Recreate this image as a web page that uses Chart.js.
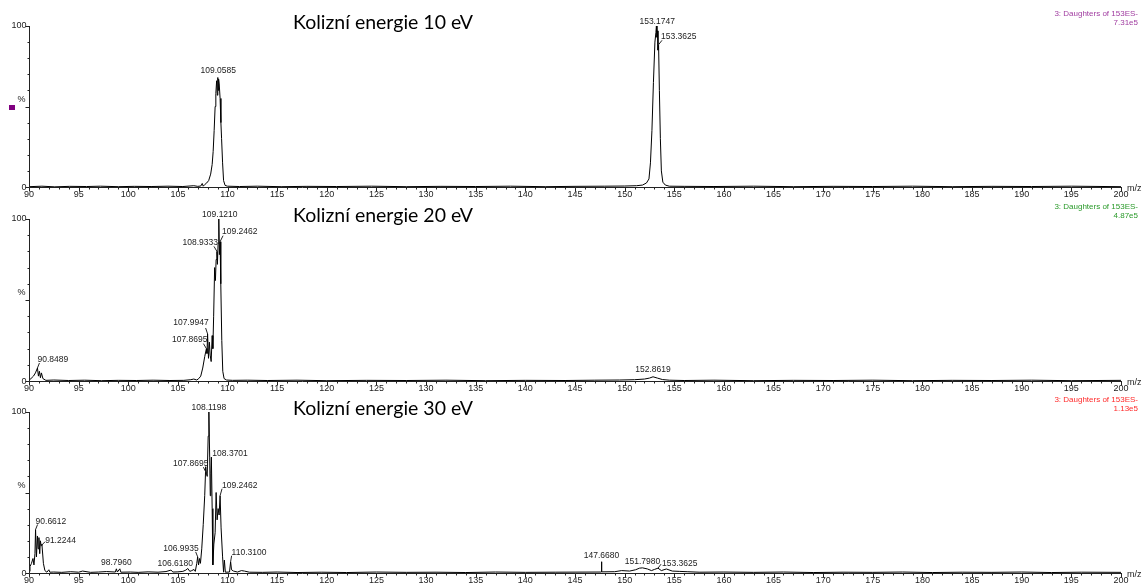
<!DOCTYPE html>
<html>
<head>
<meta charset="utf-8">
<script src="https://cdn.jsdelivr.net/npm/chart.js@4"></script>
<style>
  body { margin: 0; background: #fff; width: 1143px; height: 586px; position: relative; overflow: hidden; }
  canvas { position: absolute; left: 0; }
</style>
</head>
<body>
<canvas id="spec10" width="1143" height="200" style="top:0px"></canvas>
<canvas id="spec20" width="1143" height="200" style="top:192px"></canvas>
<canvas id="spec30" width="1143" height="200" style="top:386px"></canvas>
<script>
// ---- data: m/z and relative intensity (%) ----
const mz10 = [
  90.0, 91.3, 92.6, 94.1, 95.8, 97.2, 99.0, 100.6, 102.3, 104.0,
  105.5, 106.6, 107.0, 107.3, 107.45, 107.55, 107.7, 107.9, 108.1, 108.3,
  108.45, 108.55, 108.65, 108.75, 108.82, 108.9, 108.97, 109.02, 109.06, 109.1,
  109.16, 109.25, 109.33, 109.4, 109.5, 109.6, 109.75, 110.0, 111.2, 113.0,
  115.4, 118.0, 121.0, 124.5, 128.0, 131.5, 135.0, 138.5, 142.0, 145.0,
  148.0, 150.0, 151.2, 151.8, 152.2, 152.45, 152.6, 152.75, 152.9, 153.05,
  153.15, 153.2, 153.26, 153.32, 153.36, 153.42, 153.5, 153.6, 153.7, 153.85,
  154.1, 154.5, 156.0, 159.0, 163.0, 167.0, 171.0, 175.0, 179.0, 183.0,
  187.0, 191.0, 195.0, 200.0
];
const int10 = [
  0.2, 0.5, 0.1, 0.4, 0.3, 0.5, 0.2, 0.4, 0.3, 0.5,
  0.3, 0.8, 0.4, 0.6, 2.2, 0.5, 1.5, 2.5, 4, 8,
  14, 22, 35, 50, 58, 66, 57, 68, 60, 67,
  64, 55, 40, 30, 15, 4, 1, 0.5, 0.3, 0.5,
  0.2, 0.4, 0.3, 0.5, 0.2, 0.4, 0.3, 0.5, 0.2, 0.4,
  0.5, 0.6, 0.8, 1.2, 2.5, 5, 15, 35, 65, 90,
  96, 100, 93, 97, 85, 88, 60, 30, 10, 3,
  1.2, 0.5, 0.4, 0.3, 0.5, 0.2, 0.4, 0.3, 0.5, 0.2,
  0.4, 0.3, 0.5, 0.2
];

const mz20 = [
  90.0, 90.2, 90.45, 90.65, 90.85, 90.95, 91.05, 91.15, 91.25, 91.4,
  91.7, 92.5, 94.0, 95.6, 97.3, 99.0, 100.8, 102.5, 104.2, 105.6,
  106.3, 106.6, 106.9, 107.1, 107.3, 107.5, 107.7, 107.87, 107.93, 107.99,
  108.08, 108.17, 108.25, 108.35, 108.45, 108.52, 108.6, 108.7, 108.78, 108.85,
  108.93, 108.98, 109.05, 109.12, 109.18, 109.25, 109.32, 109.42, 109.52, 109.65,
  109.9, 110.5, 112.0, 114.0, 117.0, 120.0, 124.0, 128.0, 132.0, 136.0,
  140.0, 144.0, 147.0, 149.5, 151.0, 152.0, 152.5, 152.86, 153.3, 153.8,
  154.5, 156.0, 159.0, 163.0, 167.0, 171.0, 175.0, 179.0, 183.0, 187.0,
  191.0, 195.0, 200.0
];
const int20 = [
  0.5, 1.5, 3, 5, 8, 3, 6, 2, 5, 1.5,
  0.4, 0.6, 0.3, 0.5, 0.2, 0.4, 0.3, 0.5, 0.3, 0.4,
  0.8, 1.2, 0.6, 1.5, 3, 8, 15, 20, 17, 29,
  14, 24, 16, 12, 28, 20, 40, 70, 62, 75,
  80, 72, 85, 100, 78, 86, 60, 25, 6, 1.5,
  0.6, 0.4, 0.5, 0.3, 0.5, 0.2, 0.4, 0.3, 0.5, 0.2,
  0.4, 0.3, 0.5, 0.6, 0.8, 1.2, 1.8, 2.6, 1.8, 0.9,
  0.5, 0.3, 0.5, 0.2, 0.4, 0.3, 0.5, 0.2, 0.4, 0.3,
  0.5, 0.2, 0.4
];

const mz30 = [
  90.0, 90.1, 90.25, 90.4, 90.5, 90.6, 90.66, 90.75, 90.85, 90.92,
  91.0, 91.08, 91.15, 91.22, 91.3, 91.45, 91.6, 91.8, 92.0, 92.1,
  92.5, 93.3, 94.2, 95.0, 95.4, 96.2, 97.0, 97.8, 98.7, 98.8,
  98.9, 99.15, 99.25, 100.2, 101.0, 102.0, 103.0, 103.8, 104.3, 104.5,
  105.0, 105.5, 105.8, 106.0, 106.2, 106.4, 106.62, 106.75, 106.9, 106.99,
  107.08, 107.18, 107.27, 107.4, 107.55, 107.7, 107.8, 107.87, 107.95, 108.05,
  108.12, 108.2, 108.26, 108.32, 108.37, 108.45, 108.52, 108.62, 108.75, 108.85,
  108.95, 109.05, 109.15, 109.25, 109.35, 109.5, 109.6, 109.68, 109.78, 110.2,
  110.31, 110.4, 110.6, 111.0, 111.4, 111.7, 112.2, 113.5, 115.0, 117.0,
  119.5, 122.0, 125.0, 128.0, 131.0, 134.0, 137.0, 140.0, 143.0, 147.6,
  147.64, 147.668, 147.7, 149.0, 149.7, 150.5, 151.1, 151.5, 151.8, 152.3,
  152.7, 153.0, 153.36, 153.7, 154.2, 154.8, 155.5, 156.3, 157.5, 160.0,
  163.0, 166.0, 169.0, 172.0, 175.0, 178.0, 181.0, 184.0, 187.0, 190.0,
  193.0, 196.0, 200.0
];
const int30 = [
  1, 4, 6, 9, 5, 12, 27, 10, 23, 15,
  22, 12, 20, 17, 18, 6, 1.5, 0.5, 2, 0.5,
  0.6, 0.4, 0.8, 0.5, 1.2, 0.4, 0.6, 0.9, 0.6, 2.6,
  0.6, 2.6, 0.5, 0.6, 0.4, 0.7, 0.5, 0.9, 1.8, 0.6,
  0.7, 1.0, 1.8, 2.8, 1.0, 1.5, 2.2, 1.0, 6, 10,
  5, 9, 6, 15, 30, 48, 66, 62, 60, 85,
  100, 72, 48, 62, 72, 40, 5, 18, 25, 50,
  33, 40, 36, 48, 28, 10, 0.5, 8, 0.5, 0.6,
  7, 2, 1.2, 0.6, 1.5, 1.2, 0.5, 0.4, 0.6, 0.3,
  0.5, 0.3, 0.6, 0.4, 0.5, 0.3, 0.6, 0.4, 0.5, 0.6,
  0.7, 7, 0.7, 0.8, 1.5, 1.2, 2.0, 3.0, 3.2, 2.5,
  1.5, 2.2, 3.0, 1.5, 2.5, 1.2, 1.0, 0.8, 0.5, 0.6,
  0.4, 0.6, 0.3, 0.5, 0.4, 0.6, 0.3, 0.5, 0.4, 0.6,
  0.3, 0.5, 0.4
];

// labelled peaks
const peaks10 = ['109.0585', '153.1747', '153.3625'];
const peakInt10 = [68, 100, 88];
const peaks20 = ['90.8489', '107.8695', '107.9947', '108.9333', '109.1210', '109.2462', '152.8619'];
const peakInt20 = [8, 20, 29, 80, 100, 86, 2.6];
const peaks30 = ['90.6612', '91.2244', '98.7960', '106.6180', '106.9935', '107.8695', '108.1198',
                 '108.3701', '109.2462', '110.3100', '147.6680', '151.7980', '153.3625'];
const peakInt30 = [27, 17, 2.6, 2.2, 10, 62, 100, 72, 48, 7, 7, 3.2, 3.0];

const xTicks = [90, 95, 100, 105, 110, 115, 120, 125, 130, 135, 140, 145, 150, 155,
                160, 165, 170, 175, 180, 185, 190, 195, 200];

// label placement (pixels): dx, dy, align, optional leader end
const place10 = [
  {dx: 0, dy: -7, a: 'center'},
  {dx: 1, dy: -4, a: 'center'},
  {dx: 3, dy: -9, a: 'left', lead: [4, -5]}
];
const place20 = [
  {dx: 0, dy: -8, a: 'left', lead: [2, -5]},
  {dx: 1, dy: -9, a: 'right', lead: [-3, -5]},
  {dx: 1, dy: -11, a: 'right', lead: [-2, -6]},
  {dx: 1, dy: -9, a: 'right', lead: [-3, -5]},
  {dx: 1, dy: -4, a: 'center'},
  {dx: 2, dy: -10, a: 'left', lead: [3, -6]},
  {dx: 0, dy: -7, a: 'center'}
];
const place30 = [
  {dx: 0, dy: -8, a: 'left', lead: [2, -5]},
  {dx: 4, dy: -5, a: 'left', lead: [4, -4]},
  {dx: 0, dy: -6, a: 'center'},
  {dx: -1, dy: -6, a: 'right'},
  {dx: 1, dy: -8, a: 'right', lead: [-2, -5]},
  {dx: 2, dy: -10, a: 'right', lead: [-3, -6]},
  {dx: 0, dy: -4, a: 'center'},
  {dx: 1, dy: -3, a: 'left'},
  {dx: 2, dy: -10, a: 'left', lead: [2, -7]},
  {dx: 1, dy: -9, a: 'left', lead: [1, -6]},
  {dx: 0, dy: -6, a: 'center'},
  {dx: 0, dy: -6, a: 'center'},
  {dx: 4, dy: -5, a: 'left', lead: [3, -4]}
];

// draws axes, tick marks, peak labels and header texts
const spectrumDecor = {
  id: 'spectrumDecor',
  afterDatasetsDraw(chart, args, o) {
    const {ctx, chartArea: a, scales: {x, y}} = chart;
    const x0 = Math.round(a.left) + 0.5;
    const yb = Math.round(y.getPixelForValue(0)) + 0.5;
    ctx.save();
    ctx.strokeStyle = '#222';
    ctx.lineWidth = 1;
    ctx.beginPath();
    ctx.moveTo(x0, Math.round(y.getPixelForValue(100)));
    ctx.lineTo(x0, yb);
    ctx.lineTo(Math.round(x.getPixelForValue(200)) + 1, yb);
    for (let v = 0; v <= 100; v += 10) {
      const py = Math.round(y.getPixelForValue(v)) + 0.5;
      const len = v % 50 === 0 ? 4 : 2;
      ctx.moveTo(x0 - len, py); ctx.lineTo(x0, py);
    }
    for (let m = 90; m <= 200; m++) {
      const px = Math.round(x.getPixelForValue(m)) + 0.5;
      const len = m % 5 === 0 ? 4 : 2;
      ctx.moveTo(px, yb); ctx.lineTo(px, yb + len);
    }
    ctx.stroke();

    ctx.fillStyle = '#222';
    ctx.font = '9px "Liberation Sans", Arial, sans-serif';
    ctx.textAlign = 'center';
    ctx.textBaseline = 'top';
    xTicks.forEach(m => ctx.fillText(String(m), x.getPixelForValue(m), yb + 3));
    ctx.textAlign = 'left';
    ctx.textBaseline = 'middle';
    ctx.fillText('m/z', x.getPixelForValue(200) + 6, yb + 1);
    ctx.textAlign = 'right';
    ctx.fillText('100', x0 - 3, y.getPixelForValue(100));
    ctx.fillText('0', x0 - 3, yb);
    ctx.textAlign = 'center';
    ctx.fillText('%', x0 - 8, y.getPixelForValue(50) - 7);

    // peak labels
    ctx.font = '8.5px "Liberation Sans", Arial, sans-serif';
    o.peaks.forEach((txt, i) => {
      const p = o.place[i];
      const px = x.getPixelForValue(parseFloat(txt));
      const py = y.getPixelForValue(o.peakInt[i]);
      if (p.lead) {
        ctx.beginPath();
        ctx.moveTo(px, py);
        ctx.lineTo(px + p.lead[0], py + p.lead[1]);
        ctx.stroke();
      }
      ctx.textAlign = p.a;
      ctx.fillText(txt, px + p.dx, py + p.dy);
    });

    // header on the right
    ctx.fillStyle = o.headColor;
    ctx.font = '8px "Liberation Sans", Arial, sans-serif';
    ctx.textAlign = 'right';
    ctx.fillText('3: Daughters of 153ES-', 1138, a.top - 12);
    ctx.fillText(o.scaleText, 1138, a.top - 3);

    // panel title, fitted to the reference width
    ctx.fillStyle = '#000';
    ctx.font = '19px Lato, "Open Sans", sans-serif';
    ctx.textAlign = 'left';
    const w = ctx.measureText(o.title).width;
    ctx.translate(293, a.top - 3);
    ctx.scale(180 / w, 1);
    ctx.fillText(o.title, 0, 0);
    ctx.restore();

    if (o.marker) {
      ctx.save();
      ctx.fillStyle = '#800080';
      ctx.fillRect(9, 105, 6, 5);
      ctx.restore();
    }
  }
};

function makeSpectrum(id, mz, ints, padTop, padBottom, deco) {
  return new Chart(document.getElementById(id), {
    type: 'line',
    data: {
      datasets: [{
        data: mz.map((m, i) => ({x: m, y: ints[i]})),
        borderColor: '#000',
        borderWidth: 1,
        pointRadius: 0,
        tension: 0,
        fill: false,
        clip: 8
      }]
    },
    options: {
      responsive: false,
      animation: false,
      layout: { padding: { left: 29, right: 22, top: padTop, bottom: padBottom } },
      scales: {
        x: { type: 'linear', min: 90, max: 200, display: false },
        y: { min: 0, max: 100, display: false }
      },
      plugins: {
        legend: { display: false },
        tooltip: { enabled: false },
        spectrumDecor: deco
      }
    },
    plugins: [spectrumDecor]
  });
}

makeSpectrum('spec10', mz10, int10, 26, 13, {
  peaks: peaks10, peakInt: peakInt10, place: place10,
  title: 'Kolizní energie 10 eV', headColor: '#a03ca0', scaleText: '7.31e5', marker: true
});
makeSpectrum('spec20', mz20, int20, 27, 11, {
  peaks: peaks20, peakInt: peakInt20, place: place20,
  title: 'Kolizní energie 20 eV', headColor: '#2a9a2a', scaleText: '4.87e5'
});
makeSpectrum('spec30', mz30, int30, 26, 13, {
  peaks: peaks30, peakInt: peakInt30, place: place30,
  title: 'Kolizní energie 30 eV', headColor: '#ff2a2a', scaleText: '1.13e5'
});
</script>
</body>
</html>
